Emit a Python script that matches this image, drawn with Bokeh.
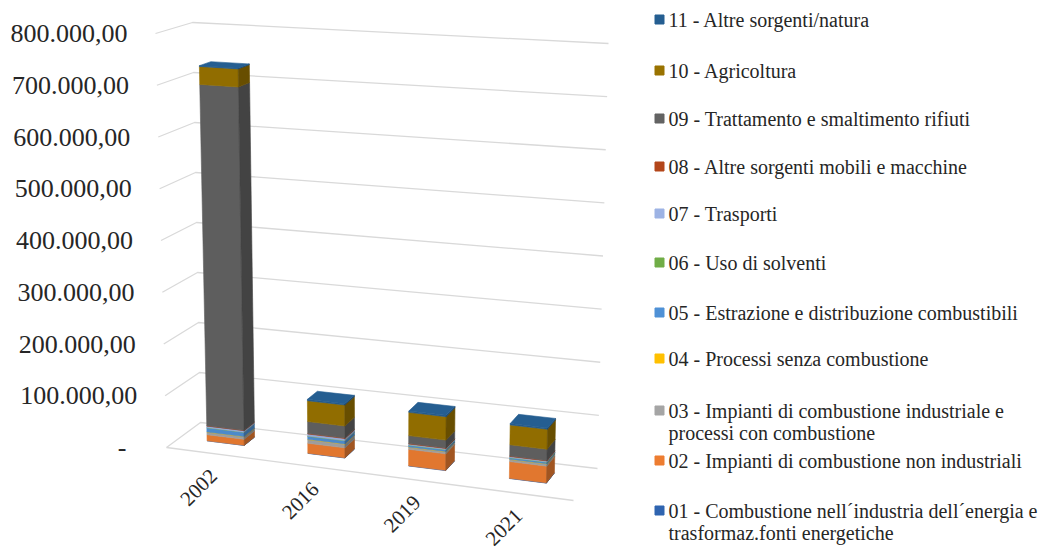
import math
from bokeh.plotting import figure
from bokeh.models import Range1d
from bokeh.core.properties import value
from bokeh.embed import file_html
from bokeh.resources import INLINE

# ---------------- data ----------------
years = ["2002", "2016", "2019", "2021"]
sectors = [
    "01 - Combustione nell\u00b4industria dell\u00b4energia e\ntrasformaz.fonti energetiche",
    "02 - Impianti di combustione non industriali",
    "03 - Impianti di combustione industriale e\nprocessi con combustione",
    "04 - Processi senza combustione",
    "05 - Estrazione e distribuzione combustibili",
    "06 - Uso di solventi",
    "07 - Trasporti",
    "08 - Altre sorgenti mobili e macchine",
    "09 - Trattamento e smaltimento rifiuti",
    "10 - Agricoltura",
    "11 - Altre sorgenti/natura",
]
colors = ["#2F64B0", "#ED7D31", "#A5A5A5", "#FFC000", "#4F91D6", "#70AD47",
          "#9DB3E4", "#B3461A", "#636363", "#997300", "#255E91"]
s01 = [300, 500, 500, 500]
s02 = [11700, 19000, 31000, 31000]
s03 = [5000, 7000, 4000, 4000]
s04 = [200, 500, 300, 300]
s05 = [8500, 6000, 3500, 3000]
s06 = [150, 300, 300, 300]
s07 = [3000, 4000, 2000, 2000]
s08 = [500, 1000, 800, 800]
s09 = [666000, 23000, 15000, 21000]
s10 = [35000, 40000, 44000, 37000]
s11 = [1500, 2500, 2500, 2500]
series = [s01, s02, s03, s04, s05, s06, s07, s08, s09, s10, s11]
y_ticks = [0, 100000, 200000, 300000, 400000, 500000, 600000, 700000, 800000]
y_tick_labels = ["-", "100.000,00", "200.000,00", "300.000,00", "400.000,00",
                 "500.000,00", "600.000,00", "700.000,00", "800.000,00"]

# ---------------- 3D projection (oblique + mild perspective) ----------------
VMAX = 800000.0
Y0 = 447.0
S = 414.0 / VMAX  # px per unit at front-left edge
FBL, FBR, FTL, FTR = (166, 447), (573, 500), (155, 33), (583, 60)
BBL, BBR, BTL, BTR = (200, 422), (597, 468), (192, 22), (608, 43)


def ydata(ypx):
    return (Y0 - ypx) / S


def bil(c00, c10, c01, c11, u, t, k):
    return ((1 - u) * (1 - t) * c00[k] + u * (1 - t) * c10[k]
            + (1 - u) * t * c01[k] + u * t * c11[k])


def proj(u, v, d):
    t = v / VMAX
    fx = bil(FBL, FBR, FTL, FTR, u, t, 0)
    fy = bil(FBL, FBR, FTL, FTR, u, t, 1)
    bx = bil(BBL, BBR, BTL, BTR, u, t, 0)
    by = bil(BBL, BBR, BTL, BTR, u, t, 1)
    return fx + d * (bx - fx), ydata(fy + d * (by - fy))


def shade(hexc, f):
    h = hexc.lstrip("#")
    r, g, b = int(h[0:2], 16), int(h[2:4], 16), int(h[4:6], 16)
    r, g, b = [max(0, min(255, int(round(c * f)))) for c in (r, g, b)]
    return "#%02x%02x%02x" % (r, g, b)


p = figure(width=1042, height=551, output_backend="svg", toolbar_location=None,
           x_range=Range1d(0, 1042), y_range=Range1d(ydata(551), ydata(0)),
           x_axis_type=None, y_axis_type=None, min_border=0)
p.outline_line_color = None
p.background_fill_color = "white"
p.border_fill_color = "white"

GRID = "#D9D9D9"
# gridlines: left wall + back wall
gx, gy = [], []
for v in y_ticks:
    a = proj(0, v, 0)
    b = proj(0, v, 1)
    c = proj(1, v, 1)
    gx.append([a[0], b[0], c[0]])
    gy.append([a[1], b[1], c[1]])
# floor front edge
a = proj(0, 0, 0)
c = proj(1, 0, 0)
gx.append([a[0], c[0]])
gy.append([a[1], c[1]])
p.multi_line(gx, gy, line_color=GRID, line_width=1.3)

# y tick labels
lx, ly = [], []
for v, lab in zip(y_ticks, y_tick_labels):
    ex, ey = proj(0, v, 0)
    lx.append(ex - (40 if lab == "-" else 28))
    ly.append(ey)
p.text(lx, ly, text=y_tick_labels, text_align="right", text_baseline="middle",
       text_font=value("Liberation Serif"), text_font_size="26px", text_color="#262626")

# bars
NCAT = len(years)
HALF_W = 0.046
D0, D1 = 0.40, 0.72
for i, yr in enumerate(years):
    uc = (i + 0.5) / NCAT - 0.012
    uL, uR = uc - HALF_W, uc + HALF_W
    xs, ys, fills = [], [], []
    base = 0.0
    for k, ser in enumerate(series):
        val = ser[i]
        lo, hi = base, base + val
        base = hi
        col = colors[k]
        # front face
        pts = [proj(uL, lo, D0), proj(uR, lo, D0), proj(uR, hi, D0), proj(uL, hi, D0)]
        xs.append([q[0] for q in pts]); ys.append([q[1] for q in pts]); fills.append(shade(col, 0.95))
        # right side face
        pts = [proj(uR, lo, D0), proj(uR, lo, D1), proj(uR, hi, D1), proj(uR, hi, D0)]
        xs.append([q[0] for q in pts]); ys.append([q[1] for q in pts]); fills.append(shade(col, 0.68))
    # top face (color of top segment)
    top = base
    pts = [proj(uL, top, D0), proj(uR, top, D0), proj(uR, top, D1), proj(uL, top, D1)]
    xs.append([q[0] for q in pts]); ys.append([q[1] for q in pts]); fills.append(shade(colors[-1], 1.0))
    p.patches(xs, ys, fill_color=fills, line_color=fills, line_width=0.6)

# x labels (rotated 45 degrees, ending just below the floor's front edge)
tx, ty = [], []
for i, yr in enumerate(years):
    uc = (i + 0.5) / NCAT - 0.012
    fx, fy = proj(uc, 0, 0)
    tx.append(fx + 1)
    ty.append(fy - 19 / S)
p.text(tx, ty, text=years, angle=math.pi / 4, text_align="right", text_baseline="middle",
       text_font=value("Liberation Serif"), text_font_size="21px", text_color="#262626")

# legend (top item = last series)
leg_y = {10: 19, 9: 70, 8: 118, 7: 166, 6: 213, 5: 262, 4: 312, 3: 358, 2: 410, 1: 460, 0: 510}
sqx, sqy, sqc = [], [], []
txx, txy, txt = [], [], []
for k in range(len(sectors)):
    yp = leg_y[k]
    sqx.append(659); sqy.append(ydata(yp)); sqc.append(colors[k])
    for j, line in enumerate(sectors[k].split("\n")):
        txx.append(668); txy.append(ydata(yp + 22 * j)); txt.append(line)
p.scatter(sqx, sqy, marker="square", size=9, fill_color=sqc, line_color=sqc)
p.text(txx, txy, text=txt, text_align="left", text_baseline="middle",
       text_font=value("Liberation Serif"), text_font_size="20px", text_color="#262626")

open("out.html", "w").write(file_html(p, INLINE))
